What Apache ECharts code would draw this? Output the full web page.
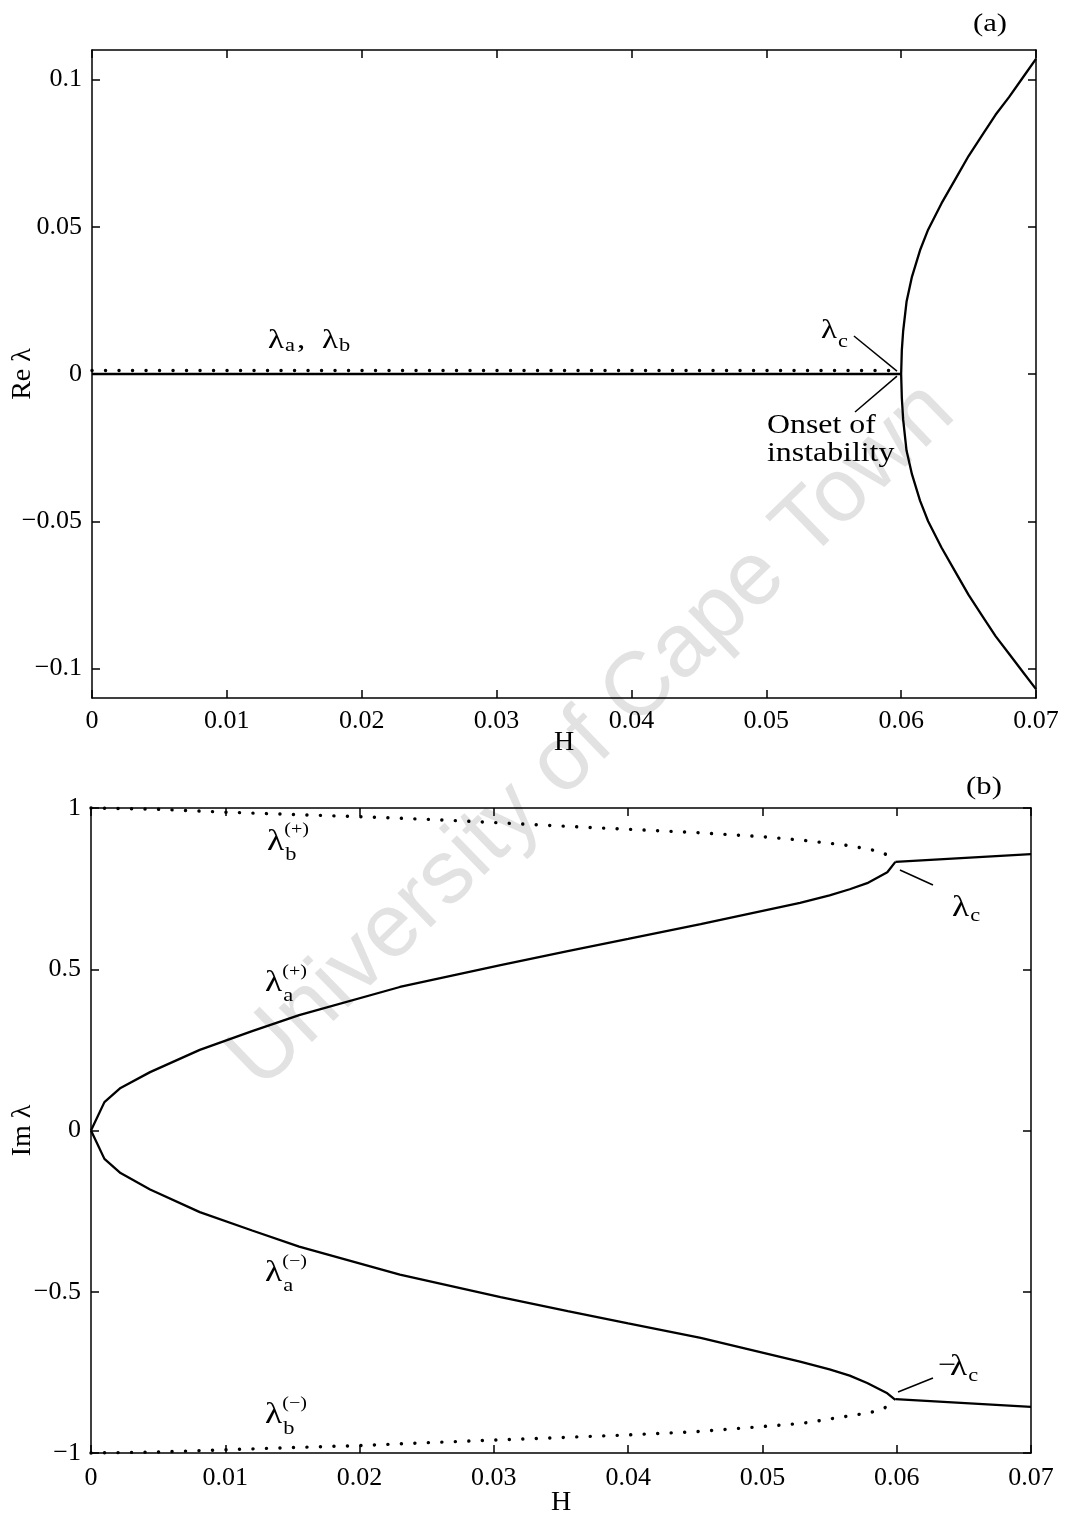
<!DOCTYPE html>
<html>
<head>
<meta charset="utf-8">
<script src="https://cdn.jsdelivr.net/npm/echarts@6/dist/echarts.min.js"></script>
<style>
  html, body { margin: 0; padding: 0; background: #fff; }
  #chart { width: 1066px; height: 1520px; }
</style>
</head>
<body>
<div id="chart"></div>
<script>
// ---- (a) real part of the eigenvalues ----
const hFlat = [0, 0.06];
const reSolidFlat = [0, 0];            // λa, λb real part (solid)
const reDottedFlat = [0.0012, 0.0012]; // λa, λb real part (dotted)
const hC = [0.06, 0.06005, 0.06015, 0.0604, 0.0608, 0.0614, 0.062, 0.063, 0.064, 0.065, 0.066, 0.067, 0.068, 0.069, 0.07];
const reCUpper = [0, 0.008, 0.0146, 0.0245, 0.033, 0.042, 0.049, 0.058, 0.066, 0.074, 0.081, 0.088, 0.094, 0.1005, 0.107];
const reCLower = [0, -0.008, -0.0155, -0.026, -0.034, -0.043, -0.05, -0.059, -0.067, -0.075, -0.082, -0.089, -0.095, -0.101, -0.107];
const reTicks = [-0.1, -0.05, 0, 0.05, 0.1];

// ---- (b) imaginary part of the eigenvalues ----
const hA = [0, 0.001, 0.0022, 0.0044, 0.0081, 0.012, 0.0155, 0.023, 0.0305, 0.0355, 0.04, 0.0454, 0.0528, 0.055, 0.0565, 0.0578, 0.0593, 0.0599];
const imAPlus = [0, 0.088, 0.132, 0.181, 0.25, 0.308, 0.358, 0.445, 0.513, 0.556, 0.594, 0.64, 0.706, 0.729, 0.748, 0.767, 0.801, 0.833];
const imAMinus = [0, -0.088, -0.132, -0.183, -0.253, -0.31, -0.36, -0.447, -0.517, -0.56, -0.598, -0.643, -0.717, -0.741, -0.76, -0.783, -0.815, -0.835];
const hB = [0, 0.005, 0.01, 0.015, 0.02, 0.025, 0.03, 0.035, 0.04, 0.045, 0.05, 0.053, 0.056, 0.058, 0.059, 0.0595, 0.0599];
const imBPlus = [1.0, 0.996, 0.987, 0.98, 0.973, 0.965, 0.955, 0.944, 0.934, 0.924, 0.911, 0.9, 0.886, 0.872, 0.86, 0.85, 0.833];
const imBMinus = [-1.0, -0.997, -0.99, -0.983, -0.977, -0.968, -0.96, -0.952, -0.944, -0.934, -0.918, -0.908, -0.888, -0.875, -0.862, -0.852, -0.835];
const hCb = [0.0599, 0.07];
const imCUpper = [0.833, 0.857];
const imCLower = [-0.833, -0.857];

const hTicks = [0, 0.01, 0.02, 0.03, 0.04, 0.05, 0.06, 0.07];

const SERIF = '"Liberation Serif", "Times New Roman", serif';
const BLACK = '#000';
const STRETCH = 1.18; // annotation lettering is set slightly wide

const zip = (xs, ys) => xs.map((x, i) => [x, ys[i]]);
const fmt = v => {
  if (Math.abs(v) < 1e-12) return '0';
  return String(+v.toFixed(3)).replace('-', '\u2212');
};

const axisLineStyle = { show: true, onZero: false, lineStyle: { color: BLACK, width: 1.5 } };
const tickStyle = { show: true, inside: true, length: 8, lineStyle: { color: BLACK, width: 1.5 } };
const labelStyle = { color: BLACK, fontFamily: SERIF, fontSize: 26, formatter: fmt };

function xAxisFor(grid, position, withLabels, nameGap, margin) {
  return {
    type: 'value', gridIndex: grid, position, min: 0, max: 0.07, interval: 0.01,
    axisLine: axisLineStyle, axisTick: tickStyle, splitLine: { show: false },
    axisLabel: withLabels ? Object.assign({ margin }, labelStyle) : { show: false },
    name: withLabels ? 'H' : '', nameLocation: 'middle', nameGap, nameMoveOverlap: false,
    nameTextStyle: { color: BLACK, fontFamily: SERIF, fontSize: 28 }
  };
}

function yAxisFor(grid, position, withLabels, range, name, nameGap) {
  const ax = {
    type: 'value', gridIndex: grid, position, min: range[0], max: range[1],
    axisLine: axisLineStyle, splitLine: { show: false },
    axisTick: Object.assign({}, tickStyle),
    axisLabel: withLabels ? Object.assign({ margin: 10 }, labelStyle) : { show: false },
    name: withLabels ? name : '', nameLocation: 'middle', nameGap, nameRotate: 90,
    nameMoveOverlap: false,
    nameTextStyle: { color: BLACK, fontFamily: SERIF, fontSize: 28 }
  };
  if (range[2]) {
    ax.axisTick.customValues = range[2];
    if (withLabels) ax.axisLabel.customValues = range[2];
  } else {
    ax.interval = range[3];
  }
  return ax;
}

function solid(data, xi, yi) {
  return {
    type: 'line', data, xAxisIndex: xi, yAxisIndex: yi, showSymbol: false, clip: false,
    lineStyle: { color: BLACK, width: 2.3 }, silent: true, z: 3
  };
}
function dotted(data, xi, yi) {
  return {
    type: 'line', data, xAxisIndex: xi, yAxisIndex: yi, showSymbol: false, clip: false,
    lineStyle: { color: BLACK, width: 3.4, type: [0.1, 13.4], cap: 'round' }, silent: true, z: 3
  };
}

const option = {
  animation: false,
  backgroundColor: '#fff',
  grid: [
    { left: 92, top: 50, width: 944, height: 648, containLabel: false, outerBoundsMode: 'none' },
    { left: 91, top: 808, width: 940, height: 645, containLabel: false, outerBoundsMode: 'none' }
  ],
  xAxis: [
    xAxisFor(0, 'bottom', true, 31, 10),
    xAxisFor(0, 'top', false, 0, 0),
    xAxisFor(1, 'bottom', true, 36, 12),
    xAxisFor(1, 'top', false, 0, 0)
  ],
  yAxis: [
    yAxisFor(0, 'left', true, [-0.11, 0.11, reTicks], 'Re \u03bb', 55),
    yAxisFor(0, 'right', false, [-0.11, 0.11, reTicks], '', 0),
    yAxisFor(1, 'left', true, [-1, 1, null, 0.5], 'Im \u03bb', 54),
    yAxisFor(1, 'right', false, [-1, 1, null, 0.5], '', 0)
  ],
  series: [
    solid(zip(hFlat, reSolidFlat), 0, 0),
    dotted(zip(hFlat, reDottedFlat), 0, 0),
    solid(zip(hC, reCUpper), 0, 0),
    solid(zip(hC, reCLower), 0, 0),
    solid(zip(hA, imAPlus), 2, 2),
    solid(zip(hA, imAMinus), 2, 2),
    dotted(zip(hB, imBPlus), 2, 2),
    dotted(zip(hB, imBMinus), 2, 2),
    solid(zip(hCb, imCUpper), 2, 2),
    solid(zip(hCb, imCLower), 2, 2)
  ]
};

const chart = echarts.init(document.getElementById('chart'), null, { renderer: 'canvas' });
chart.setOption(option);

// ---- annotations, anchored in data coordinates ----
const topPx = p => chart.convertToPixel({ seriesIndex: 0 }, p);
const botPx = p => chart.convertToPixel({ seriesIndex: 4 }, p);

const measureCtx = document.createElement('canvas').getContext('2d');
function textWidth(text, size) {
  measureCtx.font = size + 'px ' + SERIF;
  return measureCtx.measureText(text).width * STRETCH;
}

function txt(x, y, text, size, align) {
  return {
    type: 'text', x, y, z: 10, scaleX: STRETCH,
    style: { text, font: size + 'px ' + SERIF, fill: BLACK, align: align || 'left', verticalAlign: 'middle' }
  };
}
function lam(p, size, sub, subDy, sup, supDy) {
  const w = textWidth('\u03bb', size);
  const kids = [txt(0, 0, '\u03bb', size)];
  if (sub) kids.push(txt(w + 1, subDy, sub, 19));
  if (sup) kids.push(txt(w, supDy, sup, 17));
  return { type: 'group', x: p[0], y: p[1], children: kids };
}
function leader(a, b) {
  return {
    type: 'line', z: 10,
    shape: { x1: a[0], y1: a[1], x2: b[0], y2: b[1] },
    style: { stroke: BLACK, lineWidth: 1.5 }
  };
}

const cornerA = topPx([0.07, 0.11]);
const cornerB = botPx([0.07, 1]);
const abAnchor = topPx([0.01305, 0.0114]);
const lamTop = textWidth('\u03bb', 28);

const graphics = [
  // faint diagonal watermark behind the curves
  {
    type: 'text', x: 592, y: 736, rotation: 0.77, z: 0,
    style: {
      text: 'University of Cape Town', font: '90px "Liberation Sans", Arial, sans-serif',
      fill: '#e2e2e2', align: 'center', verticalAlign: 'middle'
    }
  },
  txt(cornerA[0] - 46, cornerA[1] - 26, '(a)', 26, 'center'),
  txt(cornerB[0] - 47, cornerB[1] - 21, '(b)', 26, 'center'),

  // panel (a)
  {
    type: 'group', x: abAnchor[0], y: abAnchor[1], children: [
      txt(0, 0, '\u03bb', 28), txt(lamTop + 1, 6, 'a', 19), txt(lamTop + 13, 0, ',', 28),
      txt(54, 0, '\u03bb', 28), txt(54 + lamTop + 1, 6, 'b', 19)
    ]
  },
  lam(topPx([0.05406, 0.0148]), 28, 'c', 12),
  leader(topPx([0.0565, 0.0129]), topPx([0.05969, 0.001])),
  leader(topPx([0.05658, -0.0129]), topPx([0.05969, -0.0007])),
  txt(topPx([0.05005, 0])[0], topPx([0, -0.0176])[1], 'Onset of', 27),
  txt(topPx([0.05005, 0])[0], topPx([0, -0.0272])[1], 'instability', 27),

  // panel (b)
  lam(botPx([0.01311, 0.893]), 30, 'b', 13, '(+)', -13),
  lam(botPx([0.01296, 0.4558]), 30, 'a', 13, '(+)', -12),
  lam(botPx([0.01296, -0.443]), 30, 'a', 13, '(\u2212)', -12),
  lam(botPx([0.01296, -0.884]), 30, 'b', 13, '(\u2212)', -12),
  lam(botPx([0.06412, 0.691]), 30, 'c', 8),
  leader(botPx([0.06024, 0.8078]), botPx([0.0627, 0.7612])),
  txt(botPx([0.06397, 0])[0] - 12, botPx([0, -0.735])[1] - 2, '\u2212', 27),
  lam(botPx([0.06397, -0.735]), 30, 'c', 8),
  leader(botPx([0.0601, -0.8109]), botPx([0.0627, -0.7674]))
];

chart.setOption({ graphic: graphics });
</script>
</body>
</html>
